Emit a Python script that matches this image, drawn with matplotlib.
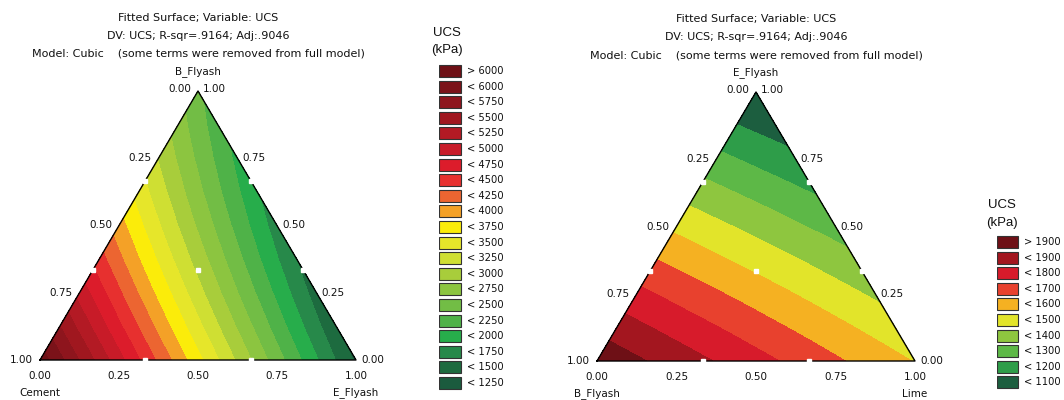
import numpy as np
import matplotlib
matplotlib.use('Agg')
from matplotlib import pyplot as plt
import matplotlib.tri as mtri

plt.rcParams['font.family'] = ['DejaVu Sans']

# fitted UCS, on a ternary grid with step 1/8
# row k -> apex fraction k/8, entry j -> right vertex fraction j/8
cement_ucs_rows = [
    [6150, 5490, 4840, 4200, 3575, 2960, 2360, 1775, 1200],
    [5505, 4864, 4236, 3620, 3017, 2427, 1848, 1283],
    [4906, 4288, 3681, 3088, 2506, 1938, 1381],
    [4355, 3758, 3173, 2602, 2042, 1495],
    [3850, 3275, 2712, 2162, 1625],
    [3392, 2839, 2298, 1770],
    [2981, 2450, 1931],
    [2617, 2108],
    [2300],
]
lime_ucs_rows = [
    [1975, 1915, 1855, 1795, 1735, 1675, 1615, 1555, 1495],
    [1851, 1792, 1733, 1675, 1616, 1558, 1499, 1440],
    [1726, 1669, 1612, 1555, 1498, 1440, 1383],
    [1602, 1546, 1490, 1435, 1379, 1323],
    [1478, 1423, 1369, 1314, 1260],
    [1353, 1300, 1247, 1194],
    [1229, 1177, 1126],
    [1104, 1054],
    [980],
]

cement_levels = [1250, 1500, 1750, 2000, 2250, 2500, 2750, 3000, 3250, 3500,
                 3750, 4000, 4250, 4500, 4750, 5000, 5250, 5500, 5750, 6000]
# low -> high
cement_colors = ['#1b5b3e', '#1d6b3f', '#27894a', '#27ad4b', '#4fb248', '#72bd45',
                 '#8cc540', '#a8cd3b', '#cfdf33', '#e6e62a', '#fbec0a', '#f4a127',
                 '#ec6531', '#e7302f', '#dc1c2b', '#c81b28', '#b31a24', '#a0171f',
                 '#8e151d', '#7b1219', '#6e1016']

lime_levels = [1100, 1200, 1300, 1400, 1500, 1600, 1700, 1800, 1900]
lime_colors = ['#1c5e3f', '#2e9d49', '#5db847', '#8ec63f', '#e2e42a', '#f5b122',
               '#e8412e', '#d71b2b', '#a3161f', '#6e1016']

# design points (left, right, apex fractions)
design_points = [(2/3, 1/3, 0), (1/3, 2/3, 0), (0, 2/3, 1/3), (0, 1/3, 2/3),
                 (2/3, 0, 1/3), (1/3, 0, 2/3), (1/3, 1/3, 1/3)]

title_lines = ['Fitted Surface; Variable: UCS',
               'DV: UCS; R-sqr=.9164; Adj:.9046',
               'Model: Cubic    (some terms were removed from full model)']
tick_values = [0.0, 0.25, 0.5, 0.75, 1.0]

SQ = np.sqrt(3) / 2
W, H = 1064, 400
TXT = '#111111'

fig = plt.figure(figsize=(W / 100, H / 100), dpi=100)


def px_axes(x0, y0, x1, y1):
    return fig.add_axes([x0 / W, 1 - y1 / H, (x1 - x0) / W, (y1 - y0) / H])


def to_xy(b, c):
    return b + c / 2, c * SQ


def label(ax, x, y, s, dx, dy, ha='center', va='center', size=7.5):
    ax.annotate(s, (x, y), xytext=(dx, dy), textcoords='offset pixels',
                ha=ha, va=va, fontsize=size, color=TXT, annotation_clip=False)


def draw_ternary(ax, rows, levels, colors, names):
    n = len(rows) - 1
    xs, ys, zs, idx = [], [], [], {}
    for k, row in enumerate(rows):
        for j, val in enumerate(row):
            x, y = to_xy(j / n, k / n)
            idx[(k, j)] = len(xs)
            xs.append(x)
            ys.append(y)
            zs.append(val)
    tris = []
    for k in range(n):
        for j in range(n - k):
            tris.append([idx[(k, j)], idx[(k, j + 1)], idx[(k + 1, j)]])
            if j + k + 2 <= n:
                tris.append([idx[(k, j + 1)], idx[(k + 1, j + 1)], idx[(k + 1, j)]])
    tri = mtri.Triangulation(xs, ys, tris)
    ax.tricontourf(tri, zs, levels=[0] + levels + [100000], colors=colors,
                   antialiased=False)
    ax.plot([0, 1, 0.5, 0], [0, 0, SQ, 0], color='black', lw=1, clip_on=False)

    dx, dy = [], []
    for a, b, c in design_points:
        x, y = to_xy(b, c)
        dx.append(x)
        dy.append(y)
    ax.plot(dx, dy, 's', ms=3, color='white', mec='white', clip_on=False, zorder=5)

    for v in tick_values:
        txt = '%.2f' % v
        label(ax, v, 0, txt, 0, -16)
        x, y = to_xy(0, 1 - v)
        label(ax, x, y, txt, -7, 2 if v == 0 else 0, ha='right')
        x, y = to_xy(1 - v, v)
        label(ax, x, y, txt, 5, 2 if v == 1 else 0, ha='left')

    label(ax, 0, 0, names[0], 0, -33)
    label(ax, 1, 0, names[1], 0, -33)
    label(ax, 0.5, SQ, names[2], 0, 19)
    for i, line in enumerate(title_lines):
        label(ax, 0.5, SQ, line, 0, 73 - 18 * i, size=8)

    ax.set_xlim(0, 1)
    ax.set_ylim(0, SQ)
    ax.axis('off')


def draw_legend(ax, levels, colors, width, box, title_x, title_rows):
    labels = ['> %d' % levels[-1]] + ['< %d' % t for t in levels[::-1]]
    rows = np.arange(len(labels))
    ax.barh(rows, box, height=0.77, left=0, color=colors[::-1],
            edgecolor='#333333', linewidth=0.8)
    for r, lab in zip(rows, labels):
        ax.text(box + 6, r, lab, ha='left', va='center', fontsize=7.2, color=TXT)
    ax.text(title_x, title_rows[0], 'UCS', ha='center', va='center',
            fontsize=9.5, family='Liberation Sans', color=TXT, clip_on=False)
    ax.text(title_x, title_rows[1], '(kPa)', ha='center', va='center',
            fontsize=9.5, family='Liberation Sans', color=TXT, clip_on=False)
    ax.set_xlim(0, width)
    ax.set_ylim(len(labels) - 0.5, -0.5)
    ax.axis('off')


ax1 = px_axes(40, 91, 356, 360)
draw_ternary(ax1, cement_ucs_rows, cement_levels, cement_colors,
             ['Cement', 'E_Flyash', 'B_Flyash'])
ax2 = px_axes(597, 92, 915, 361)
draw_ternary(ax2, lime_ucs_rows, lime_levels, lime_colors,
             ['B_Flyash', 'Lime', 'E_Flyash'])

leg1 = px_axes(439, 63.2, 520, 390.8)
draw_legend(leg1, cement_levels, cement_colors, 81, 22, 7.5, [-2.44, -1.35])
leg2 = px_axes(997, 234.2, 1064, 390.2)
draw_legend(leg2, lime_levels, lime_colors, 67, 21, 5, [-2.37, -1.22])

fig.savefig('out.png', dpi=100, facecolor='white')
